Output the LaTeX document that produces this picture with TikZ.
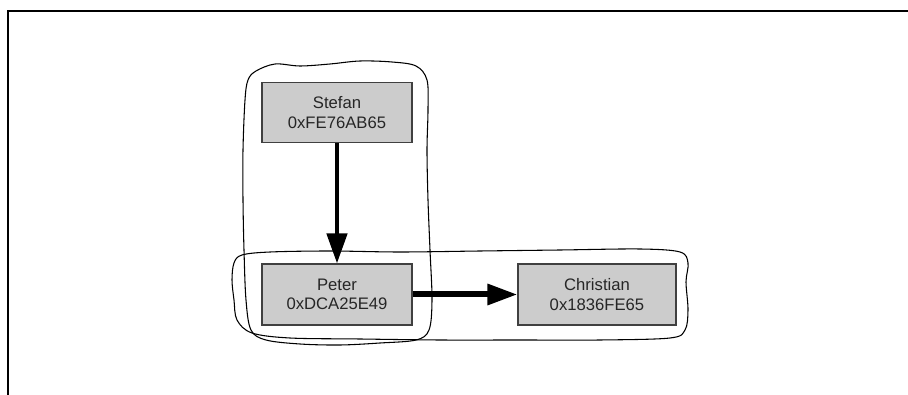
\documentclass[tikz,border=0pt]{standalone}
\usepackage{fontspec}
\setmainfont{Liberation Sans}
\usetikzlibrary{arrows.meta}
\begin{document}
\begin{tikzpicture}[x=0.75pt,y=-0.75pt,
  person/.style={draw=black!75, line width=0.8pt, fill=black!20, text=black!85,
    align=center, inner sep=0pt, font=\fontsize{12.5}{14.5}\selectfont},
  blob/.style={draw=black, line width=0.8pt},
  link/.style={-{Triangle[length=22.5pt,width=15pt]}, black}]
\useasboundingbox (0,0) rectangle (908,395);
\draw[line width=1.6pt] (908,11) -- (8,11) -- (8,395);
% group outlines
\draw[blob] plot[smooth cycle, tension=0.55] coordinates {
  (256,71) (275,64) (300,66) (330,64) (360,61) (392,62) (416,66) (427,80)
  (428,110) (427,150) (428,200) (430,250) (432,300) (429,330) (416,340)
  (380,343) (340,345) (300,344) (266,340) (251,330) (246,300) (244,250)
  (243,200) (243,150) (245,100) (248,80)};
\draw[blob] plot[smooth cycle, tension=0.55] coordinates {
  (242,255) (270,252) (330,251) (400,252) (480,251) (560,250) (640,249)
  (680,252) (688,263) (686,282) (688,310) (685,330) (670,338) (600,340)
  (520,340) (440,340) (360,339) (290,338) (252,333) (237,320) (234,300)
  (232,280) (234,263)};
% persons
\node[person, minimum width=112.5pt, minimum height=44.5pt] (stefan) at (337,112.5) {Stefan\\0xFE76AB65};
\node[person, minimum width=112.5pt, minimum height=45.75pt] (peter) at (337,294.5) {Peter\\0xDCA25E49};
\node[person, minimum width=118.5pt, minimum height=45.75pt] (christian) at (597,294.5) {Christian\\0x1836FE65};
% links
\draw[link, line width=3.4pt] (stefan) -- (peter);
\draw[link, line width=4.5pt] (peter) -- (christian);
\end{tikzpicture}
\end{document}
